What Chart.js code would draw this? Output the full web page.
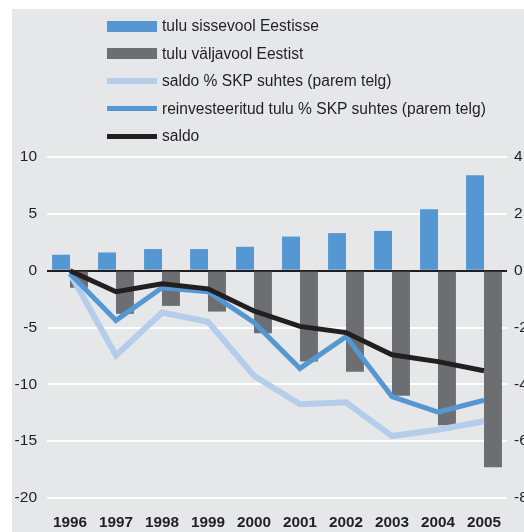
<!DOCTYPE html>
<html>
<head>
<meta charset="utf-8">
<script src="https://cdn.jsdelivr.net/npm/chart.js"></script>
<style>
  body { margin: 0; background: #fff; }
  #wrap { position: relative; width: 524px; height: 532px; overflow: hidden; }
  #bg { position: absolute; left: 12px; top: 9px; right: 0; bottom: 0; background: #e6e7e8; }
  #chart { position: absolute; left: 0; top: 0; }
  #legend { position: absolute; left: 107px; top: 12px; font-family: "Liberation Sans", Arial, sans-serif; font-size: 15.6px; color: #231f20; }
  .item { position: absolute; left: 0; height: 28px; white-space: nowrap; }
  .sw { position: absolute; left: 0; width: 50px; }
  .txt { position: absolute; left: 55px; top: 5px; }
</style>
</head>
<body>
<div id="wrap">
  <div id="bg"></div>
  <canvas id="chart" width="524" height="532"></canvas>
  <div id="legend"></div>
</div>
<script>
var years = ["1996", "1997", "1998", "1999", "2000", "2001", "2002", "2003", "2004", "2005"];
var inflow = [1.4, 1.6, 1.9, 1.9, 2.1, 3.0, 3.3, 3.5, 5.4, 8.4];
var outflow = [-1.5, -3.8, -3.1, -3.6, -5.5, -8.0, -8.9, -11.0, -13.6, -17.3];
var balanceGdp = [-0.1, -2.98, -1.47, -1.8, -3.7, -4.7, -4.63, -5.82, -5.6, -5.3];
var reinvestGdp = [-0.1, -1.75, -0.6, -0.74, -1.82, -3.44, -2.32, -4.43, -4.98, -4.56];
var balance = [0, -1.85, -1.15, -1.6, -3.55, -4.9, -5.45, -7.4, -8.0, -8.8];
var leftTicks = [-20, -15, -10, -5, 0, 5, 10];
var rightTicks = [-8, -6, -4, -2, 0, 2, 4];

Chart.defaults.font.family = '"Liberation Sans", Arial, sans-serif';
Chart.defaults.color = '#231f20';

var ctx = document.getElementById('chart');
var chart = new Chart(ctx, {
    type: 'bar',
    data: {
        labels: years,
        datasets: [{
            label: 'tulu sissevool Eestisse',
            data: inflow,
            backgroundColor: '#5597d3',
            yAxisID: 'y',
            order: 3,
            barPercentage: 1,
            categoryPercentage: 0.78
        }, {
            label: 'tulu väljavool Eestist',
            data: outflow,
            backgroundColor: '#6d6e71',
            yAxisID: 'y',
            order: 4,
            barPercentage: 1,
            categoryPercentage: 0.78
        }, {
            type: 'line',
            label: 'saldo % SKP suhtes (parem telg)',
            data: balanceGdp,
            borderColor: '#b3cdeb',
            borderWidth: 6,
            yAxisID: 'y1',
            order: 2
        }, {
            type: 'line',
            label: 'reinvesteeritud tulu % SKP suhtes (parem telg)',
            data: reinvestGdp,
            borderColor: '#5597d3',
            borderWidth: 5,
            yAxisID: 'y1',
            order: 1
        }, {
            type: 'line',
            label: 'saldo',
            data: balance,
            borderColor: '#231f20',
            borderWidth: 5,
            yAxisID: 'y',
            order: 0
        }]
    },
    options: {
        responsive: false,
        animation: false,
        layout: { padding: { top: 157, left: 0, right: 0, bottom: 0 } },
        elements: {
            line: { tension: 0, fill: false, borderJoinStyle: 'miter' },
            point: { radius: 0 }
        },
        plugins: {
            legend: { display: false },
            tooltip: { enabled: false }
        },
        scales: {
            x: {
                grid: { display: false },
                border: { display: false },
                ticks: { font: { size: 15.3, weight: 'bold' }, padding: 8, maxRotation: 0 },
                afterFit: function(scale) { scale.height = 34; }
            },
            y: {
                position: 'left',
                min: -20,
                max: 10,
                afterBuildTicks: function(scale) {
                    scale.ticks = leftTicks.map(function(v) { return { value: v }; });
                },
                grid: {
                    drawTicks: false,
                    lineWidth: 2,
                    color: function(c) { return c.tick && c.tick.value === 0 ? '#231f20' : '#ffffff'; }
                },
                border: { display: false },
                ticks: { font: { size: 15.5 }, padding: 10 },
                afterFit: function(scale) { scale.width = 47; }
            },
            y1: {
                position: 'right',
                min: -8,
                max: 4,
                afterBuildTicks: function(scale) {
                    scale.ticks = rightTicks.map(function(v) { return { value: v }; });
                },
                grid: { display: false, drawTicks: false },
                border: { display: false },
                ticks: { font: { size: 15.5 }, padding: 7 },
                afterFit: function(scale) { scale.width = 17; }
            }
        }
    }
});

// legend built from the datasets, one item per row
var legend = document.getElementById('legend');
chart.data.datasets.forEach(function(ds, i) {
    var item = document.createElement('div');
    item.className = 'item';
    item.style.top = (i * 27.6) + 'px';
    var sw = document.createElement('div');
    sw.className = 'sw';
    var h = ds.type === 'line' ? ds.borderWidth : 11;
    sw.style.height = h + 'px';
    sw.style.top = (14 - h / 2) + 'px';
    sw.style.background = ds.type === 'line' ? ds.borderColor : ds.backgroundColor;
    var txt = document.createElement('span');
    txt.className = 'txt';
    txt.textContent = ds.label;
    item.appendChild(sw);
    item.appendChild(txt);
    legend.appendChild(item);
});
</script>
</body>
</html>
